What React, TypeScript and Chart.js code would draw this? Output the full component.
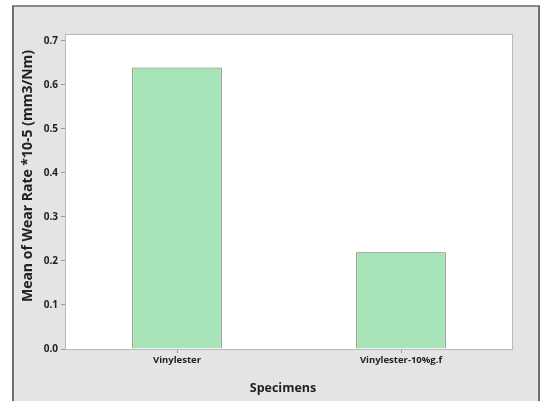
import React, { useEffect, useRef } from "react";
import { Chart, registerables } from "chart.js";

Chart.register(...registerables);

const categories = ["Vinylester", "Vinylester-10%g.f"];
const meanWearRate = [0.64, 0.22];
const yTicks = [0, 0.1, 0.2, 0.3, 0.4, 0.5, 0.6, 0.7];
const yTitle = "Mean of Wear Rate *10-5 (mm3/Nm)";
const xTitle = "Specimens";

const FONT = "'Open Sans', 'Noto Sans', sans-serif";

export default function App() {
  const ref = useRef<HTMLCanvasElement | null>(null);

  useEffect(() => {
    if (!ref.current) return;
    const framePlugin = {
      id: "frame",
      beforeDraw(chart: any) {
        const { ctx, chartArea: a } = chart;
        ctx.save();
        ctx.fillStyle = "#ffffff";
        ctx.fillRect(a.left, a.top, a.right - a.left, a.bottom - a.top);
        ctx.restore();
      },
      beforeDatasetsDraw(chart: any) {
        const { ctx, chartArea: a } = chart;
        ctx.save();
        ctx.strokeStyle = "#b9b9b9";
        ctx.lineWidth = 1;
        ctx.strokeRect(a.left + 0.5, a.top + 0.5, a.right - a.left - 1, a.bottom - a.top);
        ctx.restore();
      },
      afterDraw(chart: any) {
        const { ctx } = chart;
        ctx.save();
        ctx.fillStyle = "#222222";
        ctx.textAlign = "center";
        ctx.textBaseline = "middle";
        ctx.font = `bold 12.5px ${FONT}`;
        ctx.fillText(xTitle, 283, 388);
        ctx.font = `bold 14px ${FONT}`;
        ctx.translate(28, 176);
        ctx.rotate(-Math.PI / 2);
        ctx.fillText(yTitle, 0, 0);
        ctx.restore();
      },
    };

    const chart = new Chart(ref.current, {
      type: "bar",
      data: {
        labels: categories,
        datasets: [
          {
            data: meanWearRate,
            backgroundColor: "#a6e4b8",
            borderColor: "#6f6f6f",
            borderWidth: 1,
            barPercentage: 0.4,
            categoryPercentage: 1,
          },
        ],
      },
      options: {
        animation: false,
        responsive: false,
        maintainAspectRatio: false,
        layout: { padding: { left: 13, top: 34, right: 30, bottom: 0 } },
        plugins: {
          legend: { display: false },
          tooltip: { enabled: false },
        },
        scales: {
          x: {
            offset: true,
            grid: {
              display: true,
              drawOnChartArea: false,
              tickLength: 4,
              color: "#9a9a9a",
              offset: false,
            },
            border: { display: false },
            ticks: {
              color: "#222222",
              font: { family: FONT, size: 9.5, weight: "bold" },
              padding: 2,
              maxRotation: 0,
            },
            afterFit(scale: any) {
              scale.height = 52;
            },
          },
          y: {
            min: 0,
            max: 0.7159,
            grid: {
              display: true,
              drawOnChartArea: false,
              tickLength: 4,
              color: "#9a9a9a",
            },
            border: { display: false },
            afterBuildTicks(scale: any) {
              scale.ticks = yTicks.map((v) => ({ value: v }));
            },
            ticks: {
              color: "#222222",
              font: { family: FONT, size: 10, weight: "bold" },
              padding: 3,
              callback: (v: any) => Number(v).toFixed(1),
            },
            afterFit(scale: any) {
              scale.width = 52;
            },
          },
        },
      },
      plugins: [framePlugin],
    } as any);
    return () => chart.destroy();
  }, []);

  return (
    <div
      style={{
        position: "absolute",
        left: 0,
        top: 0,
        width: 543,
        height: 401,
        background: "#ffffff",
        overflow: "hidden",
      }}
    >
      <div
        style={{
          position: "absolute",
          left: 12,
          top: 5,
          width: 524,
          height: 400,
          background: "#e4e4e4",
          borderLeft: "2px solid #6f6f6f",
          borderTop: "2px solid #8a8a8a",
          borderRight: "2px solid #6f6f6f",
        }}
      />
      <canvas
        ref={ref}
        width={543}
        height={401}
        style={{ position: "absolute", left: 0, top: 0, width: 543, height: 401 }}
      />
    </div>
  );
}
